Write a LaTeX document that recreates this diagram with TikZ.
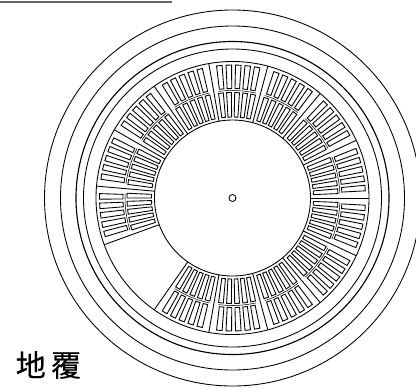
\documentclass[tikz,border=0pt]{standalone}
\usepackage{fontspec}
\usetikzlibrary{calc}
\newfontfamily\cjk[FakeBold=0.4]{Noto Sans CJK SC}
\begin{document}
% one pixel of the reference is 0.75pt
\begin{tikzpicture}[x=0.75pt,y=0.75pt,
ring/.style={draw=black, line width=0.65pt},
slot/.style={draw=black, line width=0.65pt},
title/.style={font=\cjk\fontsize{22.5pt}{22.5pt}\selectfont, inner sep=0pt},
]
	\useasboundingbox (0,0) rectangle (416,-387);
	\clip (0,0) rectangle (416,-387);
	\coordinate (C) at (232.5,-198);
	\draw[ring] (C) circle (188);
	\draw[ring] (C) circle (172);
	\draw[ring, line width=0.85pt] (C) circle (156.5);
	\draw[ring] (C) circle (149);
	\draw[ring] (C) circle (136.5);
	\draw[ring] (C) circle (78);
	\draw[ring] (C) circle (3.5);
	% sector borders
	\foreach \a in {-125,-100,...,200}
		\draw[ring] ($(C)+(\a:78)$) -- ($(C)+(\a:136.5)$);
	% slots, two rows in each sector, and the arc between the rows
	\foreach \a in {-125,-100,...,175}{
		\draw[slot, line width=0.4pt, shift={(C)}] (\a+2.5:107.5) arc[start angle=\a+2.5, end angle=\a+22.5, radius=107.5];
		\foreach \i in {-2,...,2}{
			\pgfmathsetmacro{\tm}{\a+12.5+\i*4.4}
			\draw[slot, shift={(C)}] (\tm-1.3:81) -- (\tm-1.3:105.5) -- (\tm+1.3:105.5) -- (\tm+1.3:81) -- cycle;
			\pgfmathsetmacro{\tn}{\a+12.5+\i*4.1}
			\draw[slot, shift={(C)}] (\tn-1.2:109.5) -- (\tn-1.2:133) -- (\tn+1.2:133) -- (\tn+1.2:109.5) -- cycle;
		}
	}
	\draw[line width=1pt, draw=black!60] (0,-2) -- (171.5,-2);
	\node[title, anchor=west] (dfu) at (15.5,-365) {地\hspace{4pt}覆};
\end{tikzpicture}
\end{document}
